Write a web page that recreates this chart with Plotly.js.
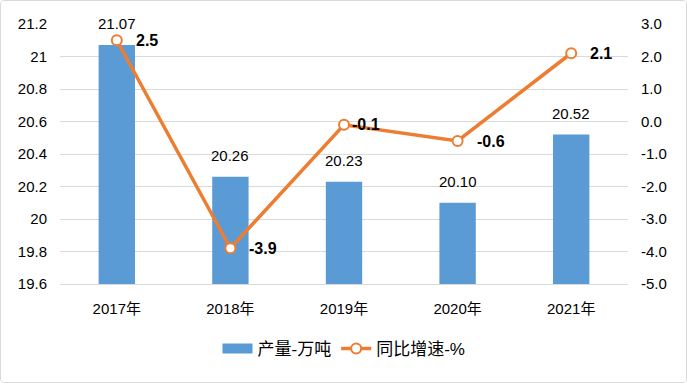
<!DOCTYPE html>
<html><head><meta charset="utf-8">
<script src="https://cdn.plot.ly/plotly-3.0.1.min.js"></script>
<style>
html,body{margin:0;padding:0;background:#fff;}
#wrap{position:absolute;left:0;top:0;width:687px;height:383px;box-sizing:border-box;border:1px solid #d9d9d9;border-radius:4px;overflow:hidden;}
#chart{position:absolute;left:0;top:0;width:685px;height:381px;}
</style></head>
<body><div id="wrap"><div id="chart"></div></div>
<script>
const categories = ['2017年','2018年','2019年','2020年','2021年'];
const output = [21.07, 20.26, 20.23, 20.10, 20.52];
const outputLabels = ['21.07','20.26','20.23','20.10','20.52'];
const growth = [2.5, -3.9, -0.1, -0.6, 2.1];
const growthLabels = ['2.5','-3.9','-0.1','-0.6','2.1'];
const leftTicks = [19.6,19.8,20,20.2,20.4,20.6,20.8,21,21.2];
const leftTickText = ['19.6','19.8','20','20.2','20.4','20.6','20.8','21','21.2'];
const rightTicks = [-5,-4,-3,-2,-1,0,1,2,3];
const rightTickText = ['-5.0','-4.0','-3.0','-2.0','-1.0','0.0','1.0','2.0','3.0'];

const FONT = '"Liberation Sans", "Noto Sans CJK SC", sans-serif';

const bar = {
  type:'bar', name:'产量-万吨', x:categories, y:output, showlegend:false,
  marker:{color:'#5B9BD5'}, width:0.32, yaxis:'y', hoverinfo:'skip'
};
// legend-only entry for the bars (wide blue swatch like the original)
const barLegend = {
  type:'scatter', mode:'lines', name:'产量-万吨', x:categories, y:output.map(()=>null),
  line:{color:'#5B9BD5', width:13}, yaxis:'y', hoverinfo:'skip', showlegend:true
};
const line = {
  type:'scatter', mode:'lines+markers', name:'同比增速-%', x:categories, y:growth,
  yaxis:'y2', line:{color:'#ED7D31', width:3.5},
  marker:{symbol:'circle', size:10, color:'#ffffff', line:{color:'#ED7D31', width:2}},
  hoverinfo:'skip'
};

const annotations = [];
categories.forEach((c,i)=>{
  annotations.push({x:c, y:output[i], xref:'x', yref:'y', text:outputLabels[i],
    showarrow:false, yanchor:'bottom', yshift:11, font:{family:FONT, size:15, color:'#000'}});
  annotations.push({x:c, y:growth[i], xref:'x', yref:'y2', text:'<b>'+growthLabels[i]+'</b>',
    showarrow:false, xanchor:'left', xshift:(i===2?6:17), font:{family:FONT, size:16, color:'#000'}});
});

const layout = {
  width:685, height:381,
  margin:{l:59, r:58, t:23, b:98},
  paper_bgcolor:'#fff', plot_bgcolor:'#fff',
  font:{family:FONT, size:15, color:'#000'},
  showlegend:true,
  legend:{orientation:'h', x:0.5, xanchor:'center', y:-0.25, yanchor:'middle',
    font:{family:FONT, size:17, color:'#000'}, traceorder:'normal'},
  xaxis:{type:'category', showgrid:false, showline:true, linecolor:'#d9d9d9', linewidth:1,
    ticks:'', tickfont:{size:15}, ticklabelstandoff:11},
  yaxis:{range:[19.6,21.2], tickvals:leftTicks, ticktext:leftTickText, showgrid:true,
    gridcolor:'#d9d9d9', gridwidth:1, zeroline:false, showline:false, ticks:'', tickfont:{size:15},
    ticklabelstandoff:12},
  yaxis2:{range:[-5,3], tickvals:rightTicks, ticktext:rightTickText, overlaying:'y', side:'right',
    showgrid:false, zeroline:false, showline:false, ticks:'', tickfont:{size:15}, ticklabelstandoff:12},
  annotations:annotations,
  bargap:0.68
};

Plotly.newPlot('chart',[bar,barLegend,line],layout,{displayModeBar:false, staticPlot:true});
</script></body></html>
